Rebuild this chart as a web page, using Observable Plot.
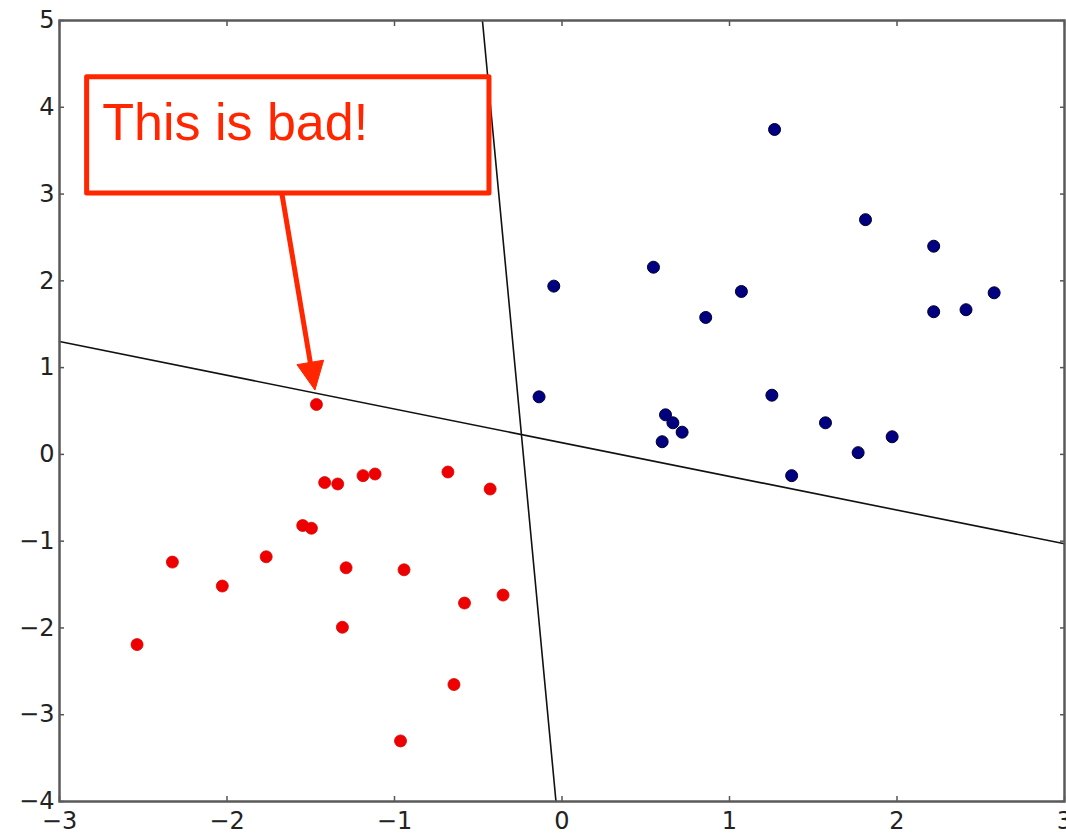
<!DOCTYPE html>
<html><head><meta charset="utf-8">
<script src="https://cdn.jsdelivr.net/npm/d3@7"></script>
<script src="https://cdn.jsdelivr.net/npm/@observablehq/plot@0.6"></script>
<style>html,body{margin:0;padding:0;background:#fff;overflow:hidden;} #chart svg{display:block}</style>
</head><body><div id="chart"></div>
<script>
// Class A (blue) points
const blueX = [1.269, 1.812, 2.219, 0.546, -0.049, 1.071, 0.858, 2.219, 2.412, 2.580,
               -0.137, 1.253, 0.618, 0.662, 0.717, 0.598, 1.573, 1.971, 1.768, 1.371];
const blueY = [3.744, 2.705, 2.399, 2.157, 1.939, 1.877, 1.578, 1.644, 1.667, 1.862,
               0.663, 0.682, 0.456, 0.364, 0.256, 0.146, 0.364, 0.203, 0.020, -0.245];
// Class B (red) points
const redX = [-1.466, -1.417, -1.339, -1.188, -1.116, -0.681, -0.429, -1.548, -1.496, -2.326,
              -1.766, -1.289, -0.943, -2.028, -0.582, -0.352, -1.311, -2.537, -0.645, -0.964];
const redY = [0.575, -0.325, -0.341, -0.245, -0.226, -0.203, -0.399, -0.820, -0.851, -1.241,
              -1.180, -1.307, -1.330, -1.517, -1.713, -1.621, -1.992, -2.192, -2.652, -3.302];
// Separating lines
const lineAX = [-3, 3];
const lineAY = [1.30, -1.03];
const lineBX = [-0.475, -0.036];
const lineBY = [5, -4];
// Ticks
const xTicks = [-3, -2, -1, 0, 1, 2, 3];
const yTicks = [-4, -3, -2, -1, 0, 1, 2, 3, 4, 5];
// Annotation
const annText = "This is bad!";
const boxX = [-2.835, -0.433];
const boxY = [3.006, 4.347];
const textPos = [-2.745, 3.81];
const arrowX = [-1.670, -1.472];
const arrowY = [3.006, 0.736];
const annColor = "#ff2600";

const blue = blueX.map((x, i) => ({x, y: blueY[i]}));
const red = redX.map((x, i) => ({x, y: redY[i]}));
const lineA = lineAX.map((x, i) => ({x, y: lineAY[i]}));
const lineB = lineBX.map((x, i) => ({x, y: lineBY[i]}));
const fmt = d => d < 0 ? "\u2212" + Math.abs(d) : String(d);

function arrowMark(index, scales) {
  const {x, y} = scales;
  const x1 = x(arrowX[0]), y1 = y(arrowY[0]), x2 = x(arrowX[1]), y2 = y(arrowY[1]);
  const dx = x2 - x1, dy = y2 - y1, len = Math.hypot(dx, dy), ux = dx / len, uy = dy / len;
  const headLen = 28, headHalf = 13.5;
  const bx = x2 - ux * headLen, by = y2 - uy * headLen;
  const g = d3.create("svg:g");
  g.append("line").attr("x1", x1).attr("y1", y1).attr("x2", bx + ux * 2).attr("y2", by + uy * 2)
    .attr("stroke", annColor).attr("stroke-width", 5);
  g.append("polygon")
    .attr("points", [[x2, y2], [bx - uy * headHalf, by + ux * headHalf], [bx + uy * headHalf, by - ux * headHalf]].map(p => p.join(",")).join(" "))
    .attr("fill", annColor).attr("stroke", annColor).attr("stroke-width", 1).attr("stroke-linejoin", "round");
  return g.node();
}

const chart = Plot.plot({
  width: 1066,
  height: 835,
  marginLeft: 59,
  marginRight: 2,
  marginTop: 20,
  marginBottom: 34,
  style: {fontFamily: "DejaVu Sans", fontSize: "24px", color: "#222", background: "#fff"},
  x: {domain: [-3, 3], label: null},
  y: {domain: [-4, 5], label: null},
  marks: [
    Plot.dot(red, {x: "x", y: "y", r: 6, fill: "#ee0000", stroke: "#dd0000", strokeWidth: 0.8}),
    Plot.dot(blue, {x: "x", y: "y", r: 6, fill: "#000080", stroke: "#000030", strokeWidth: 1}),
    Plot.line(lineA, {x: "x", y: "y", stroke: "#111", strokeWidth: 1.6}),
    Plot.line(lineB, {x: "x", y: "y", stroke: "#111", strokeWidth: 1.6}),
    Plot.rect([0], {x1: boxX[0], x2: boxX[1], y1: boxY[0], y2: boxY[1], fill: "none", stroke: annColor, strokeWidth: 5, strokeLinejoin: "round"}),
    Plot.text([annText], {x: textPos[0], y: textPos[1], text: d => d, textAnchor: "start", lineAnchor: "middle", fontSize: 52, fontFamily: "Liberation Sans", fill: annColor}),
    arrowMark,
    Plot.axisX(xTicks, {anchor: "bottom", label: null, tickSize: -5, tickPadding: 15, stroke: "#555", strokeWidth: 1.5, fill: "#222", tickFormat: fmt}),
    Plot.axisX(xTicks, {anchor: "top", label: null, tickSize: -5, stroke: "#555", strokeWidth: 1.5, tickFormat: () => ""}),
    Plot.axisY(yTicks, {anchor: "left", label: null, tickSize: -5, tickPadding: 10, stroke: "#555", strokeWidth: 1.5, fill: "#222", tickFormat: fmt}),
    Plot.axisY(yTicks, {anchor: "right", label: null, tickSize: -5, stroke: "#555", strokeWidth: 1.5, tickFormat: () => ""}),
    Plot.frame({stroke: "#5a5a5a", strokeWidth: 2.5})
  ]
});
document.getElementById("chart").append(chart);
</script>
</body></html>
